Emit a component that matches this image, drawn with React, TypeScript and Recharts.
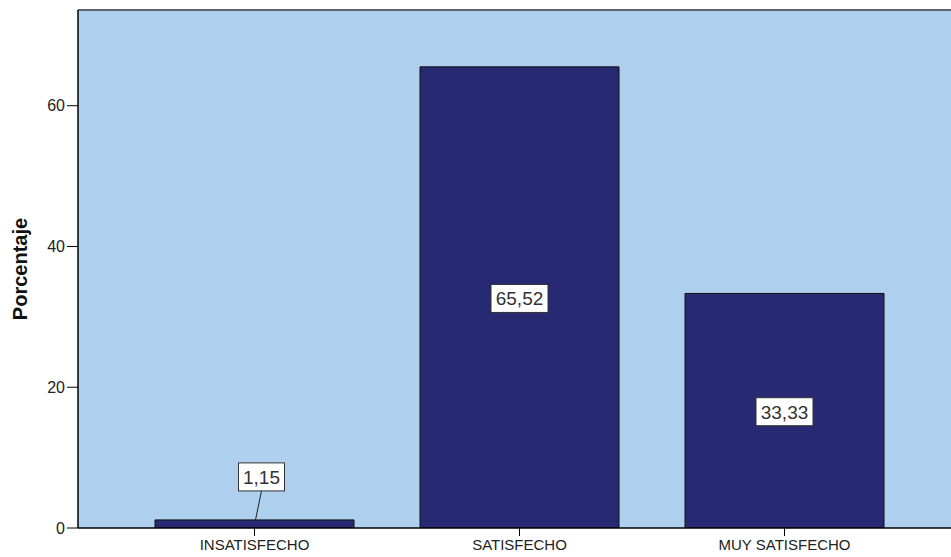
import React from 'react'
import { Bar, BarChart, CartesianGrid, LabelList, ReferenceLine, XAxis, YAxis } from 'recharts'

const categorias = ['INSATISFECHO', 'SATISFECHO', 'MUY SATISFECHO']
const porcentajes = [1.15, 65.52, 33.33]
const yTicks = [0, 20, 40, 60]
const yMax = 73.6

const data = categorias.map((c, i) => ({ categoria: c, porcentaje: porcentajes[i] }))

const font = 'Arial, "Liberation Sans", sans-serif'

const ValueBox = (props: any) => {
    const { x, y, width, height, value } = props
    const txt = Number(value).toFixed(2).replace('.', ',')
    const w = txt.length * 11 + 2
    const h = 28
    const cx = x + width / 2
    if (height < 40) {
        // small bar: box above, with a leader line
        const bx = cx + 7
        const by = y - 29 - h / 2
        return (
            <g>
                <line x1={cx + 1} y1={y} x2={bx} y2={by + h / 2} stroke="#222" strokeWidth={1} />
                <rect x={bx - w / 2} y={by - h / 2} width={w} height={h} fill="#fff" stroke="#333" strokeWidth={1} />
                <text x={bx} y={by + 7} textAnchor="middle" fontFamily={font} fontSize={19} fill="#333">{txt}</text>
            </g>
        )
    }
    const cy = y + height / 2 + 1
    return (
        <g>
            <rect x={cx - w / 2} y={cy - h / 2} width={w} height={h} fill="#fff" stroke="#333" strokeWidth={1} />
            <text x={cx} y={cy + 7} textAnchor="middle" fontFamily={font} fontSize={19} fill="#333">{txt}</text>
        </g>
    )
}

const App: React.FC = () => {
    return (
        <div style={{ position: 'absolute', left: 0, top: 0, width: 951, height: 557, overflow: 'hidden', background: '#fff' }}>
            <BarChart width={970} height={557} data={data} barCategoryGap={33}
                margin={{ top: 10, right: 9, left: 0, bottom: 0 }}>
                <CartesianGrid horizontal={false} vertical={false} fill="#AECFEE" />
                <ReferenceLine y={yMax} stroke="#5d6670" strokeWidth={2} ifOverflow="extendDomain" />
                <XAxis dataKey="categoria" height={29} padding={{ left: 44, right: 44 }}
                    axisLine={{ stroke: '#000', strokeWidth: 1.5 }} tickLine={{ stroke: '#000' }} tickSize={8}
                    tickMargin={3}
                    tick={{ fontFamily: font, fontSize: 15, fill: '#222' }} interval={0} />
                <YAxis width={78} domain={[0, yMax]} ticks={yTicks} allowDataOverflow
                    axisLine={{ stroke: '#000', strokeWidth: 1.5 }} tickLine={{ stroke: '#000' }} tickSize={11} tickMargin={2}
                    tick={{ fontFamily: font, fontSize: 16, fill: '#222' }}
                    label={{ value: 'Porcentaje', angle: -90, position: 'insideLeft', offset: 20,
                        style: { textAnchor: 'middle', fontFamily: font, fontSize: 20, fontWeight: 'bold', fill: '#111' } }} />
                <Bar dataKey="porcentaje" fill="#272973" stroke="#111" strokeWidth={1} isAnimationActive={false}>
                    <LabelList dataKey="porcentaje" content={ValueBox} />
                </Bar>
            </BarChart>
        </div>
    )
}

export default App
